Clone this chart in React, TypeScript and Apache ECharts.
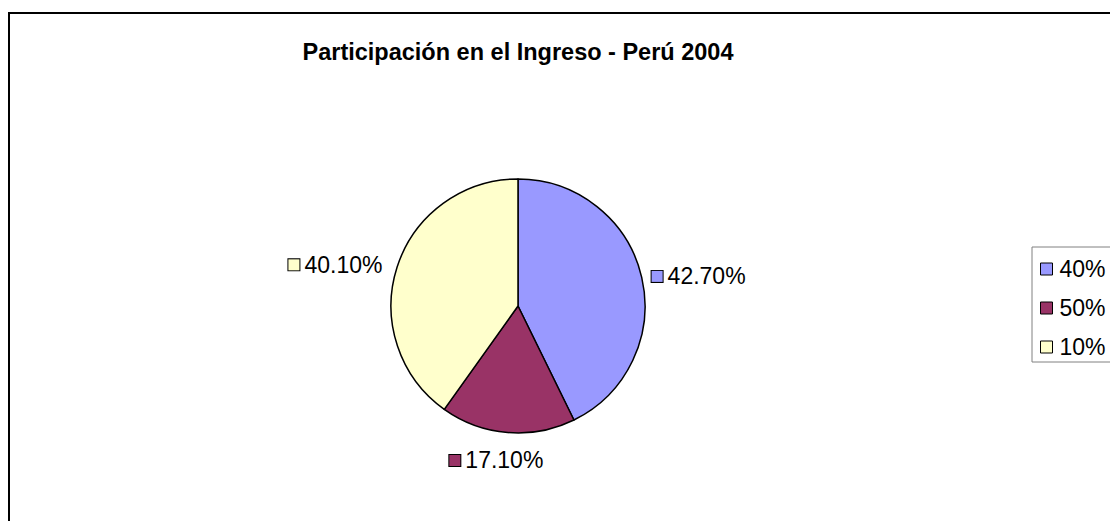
import React, { useEffect, useRef } from 'react';
import * as echarts from 'echarts';

const categories = ['40%', '50%', '10%'];
const shares = [42.7, 17.1, 40.1];
const colors = ['#9999FF', '#993366', '#FFFFCC'];
const titleText = 'Participación en el Ingreso - Perú 2004';

const FONT = '"Liberation Sans", Arial, sans-serif';

export default function App() {
  const ref = useRef<HTMLDivElement>(null);
  useEffect(() => {
    const chart = echarts.init(ref.current!, null, { renderer: 'svg' });
    const rich: any = {
      t: { fontSize: 23, fontFamily: FONT, color: '#000', padding: [0, 0, 0, 5] },
    };
    colors.forEach((c, i) => {
      rich['m' + i] = {
        width: 11,
        height: 11,
        backgroundColor: c,
        borderColor: '#000',
        borderWidth: 1,
        verticalAlign: 'middle',
      };
    });
    chart.setOption({
      animation: false,
      backgroundColor: '#ffffff',
      title: {
        text: titleText,
        left: 518,
        top: 40,
        textAlign: 'center',
        padding: 0,
        textStyle: { fontSize: 23.5, fontWeight: 'bold', fontFamily: FONT, color: '#000' },
      },
      legend: {
        orient: 'vertical',
        left: 1032,
        top: 247,
        data: categories,
        icon: 'rect',
        itemWidth: 12,
        itemHeight: 12,
        itemGap: 13,
        padding: [9, 10, 2, 8],
        borderColor: '#808080',
        borderWidth: 1,
        itemStyle: { borderColor: '#000', borderWidth: 1 },
        textStyle: { fontSize: 23, fontFamily: FONT, color: '#000', lineHeight: 26, padding: [0, 0, 0, 2] },
      },
      graphic: [
        {
          type: 'rect',
          silent: true,
          z: -1,
          shape: { x: 9, y: 13, width: 1200, height: 600 },
          style: { fill: 'none', stroke: '#000', lineWidth: 2 },
        },
      ],
      series: [
        {
          type: 'pie',
          center: [518, 306],
          radius: 127,
          startAngle: 90,
          clockwise: true,
          avoidLabelOverlap: false,
          itemStyle: { borderColor: '#000', borderWidth: 1.5 },
          data: categories.map((name, i) => ({
            name,
            value: shares[i],
            itemStyle: { color: colors[i] },
            labelLine:
              i === 0 ? { length: 4, length2: 1 } : i === 1 ? { length: 28, length2: 0 } : undefined,
          })),
          label: {
            show: true,
            position: 'outside',
            formatter: (p: any) => `{m${p.dataIndex}|}{t|${Number(p.value).toFixed(2)}%}`,
            rich,
          },
          labelLine: { show: false, length: 8, length2: 2 },
          labelLayout: (p: any) => (p.dataIndex === 1 ? { align: 'center', dx: -4 } : {}),
          emphasis: { disabled: true },
        },
      ],
    });
    return () => chart.dispose();
  }, []);
  return (
    <div style={{ position: 'fixed', left: 0, top: 0, width: 1110, height: 521 }}>
      <div ref={ref} style={{ width: 1110, height: 521 }} />
    </div>
  );
}
